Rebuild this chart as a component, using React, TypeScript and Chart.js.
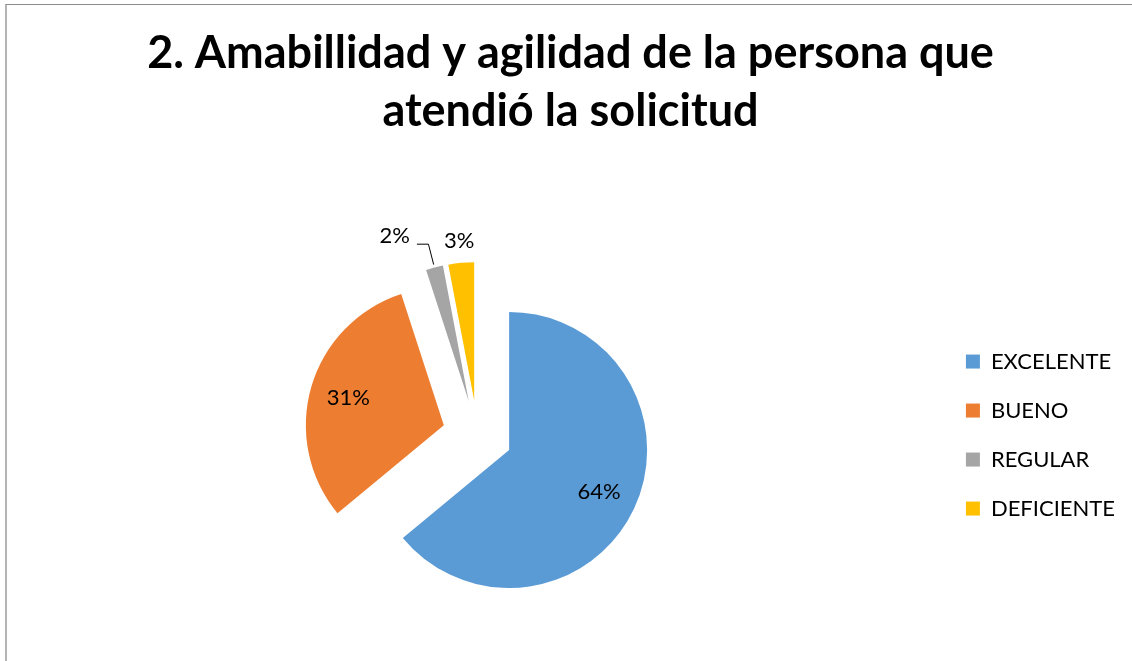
import React, { useEffect, useRef } from "react";
import { Chart, registerables, PieController } from "chart.js";

Chart.register(...registerables);

const TITLE_LINES = ["2. Amabillidad y agilidad de la persona que", "atendió la solicitud"];
const CATEGORIES = ["EXCELENTE", "BUENO", "REGULAR", "DEFICIENTE"];
const VALUES = [64, 31, 2, 3];
const COLORS = ["#5B9BD5", "#ED7D31", "#A5A5A5", "#FFC000"];

const FONT = "Lato, 'Open Sans', sans-serif";
const EXPLODE = 35;
const PIE_RADIUS = 138;
const LEADER_GAP = 34;

class ExplodedPieController extends (PieController as any) {
  static id = "explodedPie";
  draw() {
    const self: any = this;
    const ctx = self.chart.ctx as CanvasRenderingContext2D;
    const area = self.chart.chartArea;
    const elements = self._cachedMeta.data || [];
    for (const el of elements) {
      if (el.hidden) continue;
      const mid = (el.startAngle + el.endAngle) / 2;
      ctx.save();
      ctx.translate(Math.cos(mid) * EXPLODE, Math.sin(mid) * EXPLODE);
      el.draw(ctx, area);
      ctx.restore();
    }
  }
}
Chart.register(ExplodedPieController as any);

const labelPlugin = {
  id: "pieLabels",
  afterDatasetsDraw(chart: any) {
    const ctx = chart.ctx as CanvasRenderingContext2D;
    const meta = chart.getDatasetMeta(0);
    const data = chart.data.datasets[0].data as number[];
    const total = data.reduce((a: number, b: number) => a + b, 0);
    ctx.save();
    ctx.font = `22px ${FONT}`;
    ctx.fillStyle = "#000";
    ctx.textAlign = "center";
    ctx.textBaseline = "middle";
    const outside: any[] = [];
    meta.data.forEach((el: any, i: number) => {
      const { x, y, startAngle, endAngle, outerRadius } = el;
      const mid = (startAngle + endAngle) / 2;
      const cx = x + Math.cos(mid) * EXPLODE;
      const cy = y + Math.sin(mid) * EXPLODE;
      const pct = Math.round((data[i] / total) * 100);
      const text = pct + "%";
      if (pct >= 10) {
        const d = outerRadius * 0.72;
        ctx.fillText(text, cx + Math.cos(mid) * d, cy + Math.sin(mid) * d);
      } else {
        const d = outerRadius + 22;
        const w = ctx.measureText(text).width;
        outside.push({
          text, w, x: cx + Math.cos(mid) * d, y: cy + Math.sin(mid) * d,
          cx, cy, mid, r: outerRadius, shifted: false,
        });
      }
    });
    for (let k = outside.length - 2; k >= 0; k--) {
      const a = outside[k];
      const b = outside[k + 1];
      if (a.x + a.w / 2 > b.x - b.w / 2) {
        a.x = b.x - b.w / 2 - LEADER_GAP - a.w / 2;
        a.y -= 10;
        a.shifted = true;
      }
    }
    outside.forEach((a) => {
      ctx.fillText(a.text, a.x, a.y);
      if (a.shifted) {
        const t0 = a.r + 3;
        const p0x = a.cx + Math.cos(a.mid) * t0;
        const p0y = a.cy + Math.sin(a.mid) * t0;
        const ey = a.y + 8;
        const t1 = (ey - a.cy) / Math.sin(a.mid);
        const ex = a.cx + Math.cos(a.mid) * t1;
        ctx.beginPath();
        ctx.strokeStyle = "#000";
        ctx.lineWidth = 1;
        ctx.moveTo(p0x, p0y);
        ctx.lineTo(ex, ey);
        ctx.lineTo(a.x + a.w / 2 + 7, ey);
        ctx.stroke();
      }
    });
    ctx.restore();
  },
};

export default function App() {
  const ref = useRef<HTMLCanvasElement | null>(null);
  useEffect(() => {
    if (!ref.current) return;
    const chart = new Chart(ref.current, {
      type: "explodedPie" as any,
      data: {
        labels: CATEGORIES,
        datasets: [
          {
            data: VALUES,
            backgroundColor: COLORS,
            borderWidth: 0,
            radius: PIE_RADIUS,
          } as any,
        ],
      },
      options: {
        animation: false,
        responsive: false,
        devicePixelRatio: 1,
        layout: { padding: { left: 16, right: 7, top: 0, bottom: 0 } },
        plugins: {
          tooltip: { enabled: false },
          title: {
            display: true,
            text: TITLE_LINES,
            color: "#000",
            font: { family: FONT, size: 45, weight: "bold", lineHeight: 1.29 },
            padding: { top: 24, bottom: 69 },
          },
          legend: {
            position: "right",
            fullSize: false,
            labels: {
              boxWidth: 14,
              boxHeight: 14,
              padding: 27,
              color: "#000",
              font: { family: FONT, size: 22 },
            },
          },
        },
      } as any,
      plugins: [labelPlugin],
    });
    return () => chart.destroy();
  }, []);
  return (
    <div style={{ position: "fixed", left: 0, top: 0, width: 1132, height: 661, background: "#fff", overflow: "hidden" }}>
      <div
        style={{
          position: "absolute", left: 5, top: 4, width: 1140, height: 670,
          borderTop: "1px solid #8c8c8c", borderLeft: "2px solid #b4b4b4",
        }}
      />
      <canvas ref={ref} width={1132} height={661} style={{ position: "absolute", left: 0, top: 0 }} />
    </div>
  );
}
